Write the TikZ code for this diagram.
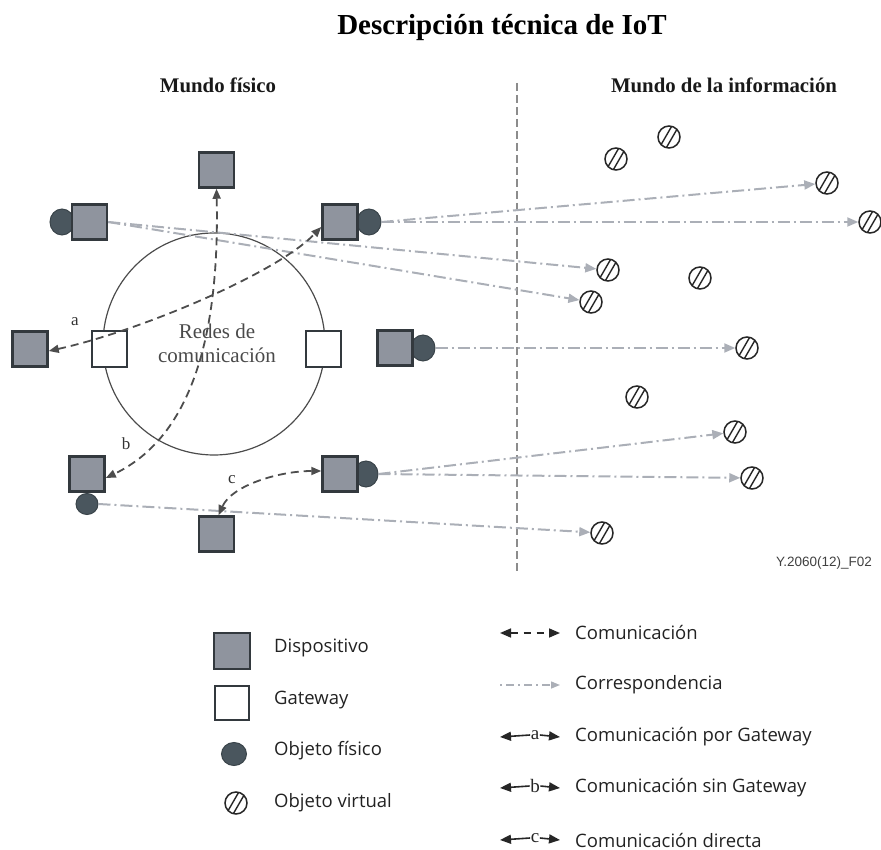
\documentclass[tikz,border=0pt]{standalone}
\usepackage{fontspec}
\setmainfont{Liberation Serif}
\newfontfamily\legfont{Open Sans}
\newfontfamily\codefont{Liberation Sans}
\usetikzlibrary{shapes.geometric,arrows.meta}

\definecolor{devfill}{HTML}{8F949E}
\definecolor{devline}{HTML}{33393E}
\definecolor{physfill}{HTML}{4A565E}
\definecolor{physline}{HTML}{3A444A}
\definecolor{corr}{HTML}{ABAFB7}
\definecolor{comm}{HTML}{4D4D4D}
\definecolor{divider}{HTML}{8C8C8C}
\definecolor{nettext}{HTML}{4A4A4A}
\definecolor{legtext}{HTML}{222222}

\begin{document}
\begin{tikzpicture}[x=1pt,y=-1pt,
  dev/.style={rectangle, minimum size=35pt, inner sep=0pt, fill=devfill, draw=devline, line width=2.5pt},
  gw/.style={rectangle, minimum size=35pt, inner sep=0pt, fill=white, draw=devline, line width=2pt},
  phys/.style={ellipse, minimum width=24pt, minimum height=26pt, inner sep=0pt, fill=physfill, draw=physline, line width=1pt},
  virt/.style={circle, minimum size=22pt, inner sep=0pt, draw=black!85, line width=1.5pt, fill=white,
    path picture={
      \draw[line width=1.4pt, black!85] ([shift={(-9.5pt,-10.4pt)}]path picture bounding box.center) -- ([shift={(2.5pt,10.4pt)}]path picture bounding box.center);
      \draw[line width=1.4pt, black!85] ([shift={(-2.5pt,-10.4pt)}]path picture bounding box.center) -- ([shift={(9.5pt,10.4pt)}]path picture bounding box.center);
    }},
  corrline/.style={draw=corr, line width=2pt, dash pattern=on 12pt off 4pt on 2pt off 4pt,
    -{Triangle[length=11pt,width=9pt,fill=corr]}},
  commline/.style={draw=comm, line width=1.8pt, dash pattern=on 8pt off 5pt},
  ctip/.tip={Triangle[length=10pt,width=8pt]},
  ltip/.tip={Triangle[length=11pt,width=9pt]},
  lbl/.style={font=\fontsize{17}{20}\selectfont, text=black!80, inner sep=0pt},
  keylbl/.style={font=\fontsize{19}{22}\selectfont, text=black!85, inner sep=0.5pt},
  keyline/.style={black!85, line width=1.6pt},
  legtxt/.style={font=\legfont\fontsize{18.5}{22}\selectfont, text=legtext, anchor=west, inner sep=0pt},
]
\useasboundingbox (0,0) rectangle (881,850);

% titles
\node[font=\fontsize{29}{34}\selectfont\bfseries, inner sep=0pt, anchor=base] (title) at (502,35) {Descripción técnica de IoT};
\node[font=\fontsize{20.8}{24}\selectfont\bfseries, text=black!90, inner sep=0pt, anchor=base] (hphys) at (218,93) {Mundo físico};
\node[font=\fontsize{20.8}{24}\selectfont\bfseries, text=black!90, inner sep=0pt, anchor=base] (hinfo) at (724,93) {Mundo de la información};

% divider
\coordinate (divTop) at (517,83);
\coordinate (divBot) at (517,572);
\draw[divider, line width=2pt, dash pattern=on 8pt off 4pt] (divTop) -- (divBot);

% network circle
\node[circle, draw=black!70, line width=1.2pt, minimum size=222pt, inner sep=0pt] (net) at (214,344) {};
\node[font=\fontsize{21}{24}\selectfont, text=nettext, align=center, inner sep=0pt] (nettxt) at (217,343) {Redes de\\comunicación};

% physical objects (behind devices)
\node[phys] (oLU) at (62,222) {};
\node[phys] (oRU) at (369,222) {};
\node[phys] (oM) at (423,348) {};
\node[phys, minimum width=22pt, minimum height=21pt] (oBL) at (87,504) {};
\node[phys] (oBR) at (366,474) {};

% devices
\node[dev] (dTop) at (216.5,170) {};
\node[dev] (dLU) at (89.5,222) {};
\node[dev] (dRU) at (340,222) {};
\node[dev] (dLM) at (30,349) {};
\node[dev] (dM) at (395,348) {};
\node[dev] (dBL) at (87,474) {};
\node[dev] (dBR) at (340,474) {};
\node[dev] (dBM) at (216.5,534) {};

% gateways
\node[gw] (gL) at (109,349) {};
\node[gw] (gR) at (323,349) {};

% virtual objects
\node[virt] (v1) at (616,159) {};
\node[virt] (v2) at (669,137) {};
\node[virt] (v3) at (827,183) {};
\node[virt] (v4) at (870,222) {};
\node[virt] (v5) at (608,270) {};
\node[virt] (v6) at (700,278) {};
\node[virt] (v7) at (591,302) {};
\node[virt] (v8) at (747,348) {};
\node[virt] (v9) at (637,397) {};
\node[virt] (v10) at (735,432) {};
\node[virt] (v11) at (752,478) {};
\node[virt] (v12) at (602,533) {};

% correspondence
\draw[corrline] (dLU.east) -- (v5);
\draw[corrline] (dLU.east) -- (v7);
\draw[corrline] (oRU.east) -- (v3);
\draw[corrline] (oRU.east) -- (v4);
\draw[corrline] (oM.east) -- (v8);
\draw[corrline] (oBR.east) -- (v10);
\draw[corrline] (oBR.east) -- (v11);
\draw[corrline] (oBL.east) -- (v12);

% communication
\coordinate (aS) at ([yshift=-2pt]dLM.east);
\coordinate (aE) at ([yshift=-5pt]dRU.west);
\draw[commline, ctip-ctip] (aS) .. controls (140,331) and (277,273) .. (aE);
\coordinate (bE) at ([yshift=-4pt]dBL.east);
\draw[commline, ctip-ctip] (dTop.south) .. controls (220,350) and (185,440) .. (bE);
\coordinate (cS) at ([yshift=3pt]dBR.west);
\coordinate (cE) at ([xshift=2pt]dBM.north);
\draw[commline, ctip-ctip] (cS) .. controls (280,471) and (232,485) .. (cE);

\node[lbl] (la) at (75,322) {a};
\node[lbl] (lb) at (126,444) {b};
\node[lbl] (lc) at (232,480) {c};

\node[font=\codefont\fontsize{13.5}{16}\selectfont, text=black!75, inner sep=0pt] (code) at (824,563) {Y.2060(12)\_F02};

% legend left
\node[dev, minimum size=36pt] (lgDev) at (232,651) {};
\node[gw, minimum size=34pt] (lgGw) at (232,703) {};
\node[phys, minimum width=25pt, minimum height=23pt] (lgPhys) at (234,754) {};
\node[virt] (lgVirt) at (236,803) {};
\node[legtxt] (tDev) at (274,648) {Dispositivo};
\node[legtxt] (tGw) at (274,700) {Gateway};
\node[legtxt] (tPhys) at (274,751) {Objeto físico};
\node[legtxt] (tVirt) at (274,803) {Objeto virtual};

% legend right
\coordinate (k1a) at (500,633); \coordinate (k1b) at (560,633);
\draw[keyline, dash pattern=on 7pt off 6pt, ltip-ltip] (k1a) -- (k1b);
\node[legtxt] (t1) at (575,633) {Comunicación};

\coordinate (k2a) at (500,685); \coordinate (k2b) at (560,685);
\draw[corr, line width=1.4pt, dash pattern=on 2pt off 4pt on 8pt off 4pt, -{Triangle[length=9pt,width=7pt,fill=corr]}] (k2a) -- (k2b);
\node[legtxt] (t2) at (575,685) {Correspondencia};

\coordinate (k3a) at (500,737); \coordinate (k3b) at (560,737);
\node[keylbl] (k3l) at (535,735) {a};
\draw[keyline, ltip-] (k3a) -- (k3l.west);
\draw[keyline, -ltip] (k3l.east) -- (k3b);
\node[legtxt] (t3) at (575,737) {Comunicación por Gateway};

\coordinate (k4a) at (500,788); \coordinate (k4b) at (560,788);
\node[keylbl] (k4l) at (535,786) {b};
\draw[keyline, ltip-] (k4a) -- (k4l.west);
\draw[keyline, -ltip] (k4l.east) -- (k4b);
\node[legtxt] (t4) at (575,788) {Comunicación sin Gateway};

\coordinate (k5a) at (500,840); \coordinate (k5b) at (560,840);
\node[keylbl] (k5l) at (535,838) {c};
\draw[keyline, ltip-] (k5a) -- (k5l.west);
\draw[keyline, -ltip] (k5l.east) -- (k5b);
\node[legtxt] (t5) at (575,840) {Comunicación directa};
\end{tikzpicture}
\end{document}
